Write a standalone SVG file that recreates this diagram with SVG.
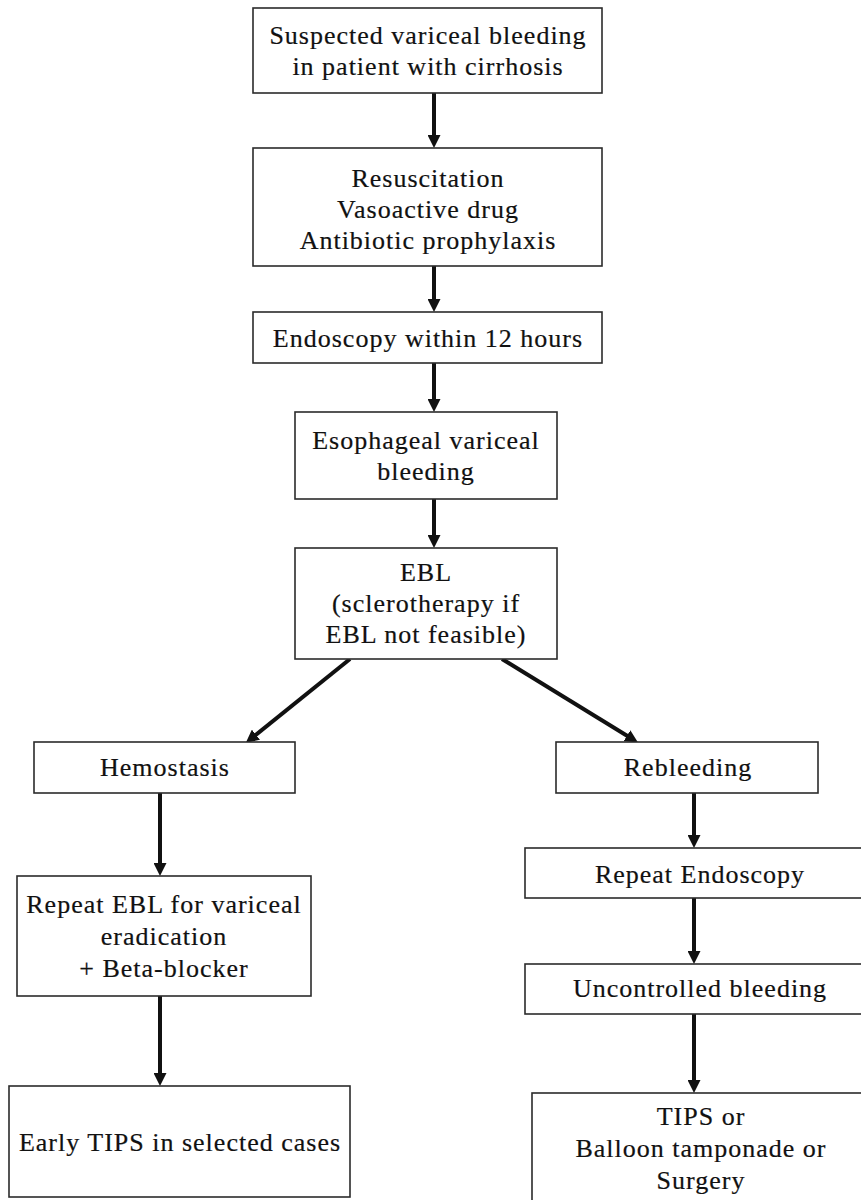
<svg xmlns="http://www.w3.org/2000/svg" width="861" height="1200" viewBox="0 0 861 1200">
  <style>
    .box { fill: #ffffff; stroke: #2b2b2b; stroke-width: 1.6; }
    .lbl { font-family: "Liberation Serif", "Times New Roman", serif; font-size: 26px; letter-spacing: 1px; fill: #111111; stroke: #111111; stroke-width: 0.2; text-anchor: middle; }
    .arr { stroke: #111111; stroke-width: 4; fill: none; marker-end: url(#head); }
  </style>
  <defs>
    <marker id="head" markerUnits="userSpaceOnUse" markerWidth="14" markerHeight="13" refX="3" refY="6.5" orient="auto">
      <path d="M0,0 L13,6.5 L0,13 Z" fill="#111111"/>
    </marker>
  </defs>
  <rect width="861" height="1200" fill="#ffffff"/>

  <!-- connectors: each line stops 10px short of the box edge, the marker tip reaches it -->
  <g id="connectors">
    <line class="arr" x1="434" y1="93" x2="434" y2="138"/>
    <line class="arr" x1="434" y1="266" x2="434" y2="302"/>
    <line class="arr" x1="434" y1="363" x2="434" y2="402"/>
    <line class="arr" x1="434" y1="499" x2="434" y2="538"/>
    <line class="arr" x1="350" y1="659" x2="253.6" y2="736.6"/>
    <line class="arr" x1="502" y1="659" x2="629.5" y2="737.3"/>
    <line class="arr" x1="160" y1="793" x2="160" y2="866"/>
    <line class="arr" x1="160" y1="996" x2="160" y2="1076"/>
    <line class="arr" x1="694" y1="793" x2="694" y2="838"/>
    <line class="arr" x1="694" y1="898" x2="694" y2="954"/>
    <line class="arr" x1="694" y1="1014" x2="694" y2="1083"/>
  </g>

  <!-- main column -->
  <g id="suspected">
    <rect class="box" x="253" y="8" width="349" height="85"/>
    <text class="lbl" x="428" y="44">Suspected variceal bleeding</text>
    <text class="lbl" x="428" y="75">in patient with cirrhosis</text>
  </g>
  <g id="resuscitation">
    <rect class="box" x="253" y="148" width="349" height="118"/>
    <text class="lbl" x="428" y="187">Resuscitation</text>
    <text class="lbl" x="428" y="218">Vasoactive drug</text>
    <text class="lbl" x="428" y="249">Antibiotic prophylaxis</text>
  </g>
  <g id="endoscopy">
    <rect class="box" x="253" y="312" width="349" height="51"/>
    <text class="lbl" x="428" y="347">Endoscopy within 12 hours</text>
  </g>
  <g id="esophageal">
    <rect class="box" x="295" y="412" width="262" height="87"/>
    <text class="lbl" x="426" y="449">Esophageal variceal</text>
    <text class="lbl" x="426" y="480">bleeding</text>
  </g>
  <g id="ebl">
    <rect class="box" x="295" y="548" width="262" height="111"/>
    <text class="lbl" x="426" y="581">EBL</text>
    <text class="lbl" x="426" y="612">(sclerotherapy if</text>
    <text class="lbl" x="426" y="643">EBL not feasible)</text>
  </g>

  <!-- left branch -->
  <g id="hemostasis">
    <rect class="box" x="34" y="742" width="261" height="51"/>
    <text class="lbl" x="165" y="776">Hemostasis</text>
  </g>
  <g id="repeat-ebl">
    <rect class="box" x="17" y="876" width="294" height="120"/>
    <text class="lbl" x="164" y="913">Repeat EBL for variceal</text>
    <text class="lbl" x="164" y="945">eradication</text>
    <text class="lbl" x="164" y="977">+ Beta-blocker</text>
  </g>
  <g id="early-tips">
    <rect class="box" x="9" y="1086" width="341" height="111"/>
    <text class="lbl" x="180" y="1151">Early TIPS in selected cases</text>
  </g>

  <!-- right branch -->
  <g id="rebleeding">
    <rect class="box" x="556" y="742" width="262" height="51"/>
    <text class="lbl" x="688" y="776">Rebleeding</text>
  </g>
  <g id="repeat-endoscopy">
    <rect class="box" x="525" y="848" width="350" height="50"/>
    <text class="lbl" x="700" y="883">Repeat Endoscopy</text>
  </g>
  <g id="uncontrolled">
    <rect class="box" x="525" y="964" width="350" height="50"/>
    <text class="lbl" x="700" y="997">Uncontrolled bleeding</text>
  </g>
  <g id="rescue">
    <rect class="box" x="532" y="1093" width="340" height="130"/>
    <text class="lbl" x="701" y="1125">TIPS or</text>
    <text class="lbl" x="701" y="1157">Balloon tamponade or</text>
    <text class="lbl" x="701" y="1189">Surgery</text>
  </g>
</svg>
